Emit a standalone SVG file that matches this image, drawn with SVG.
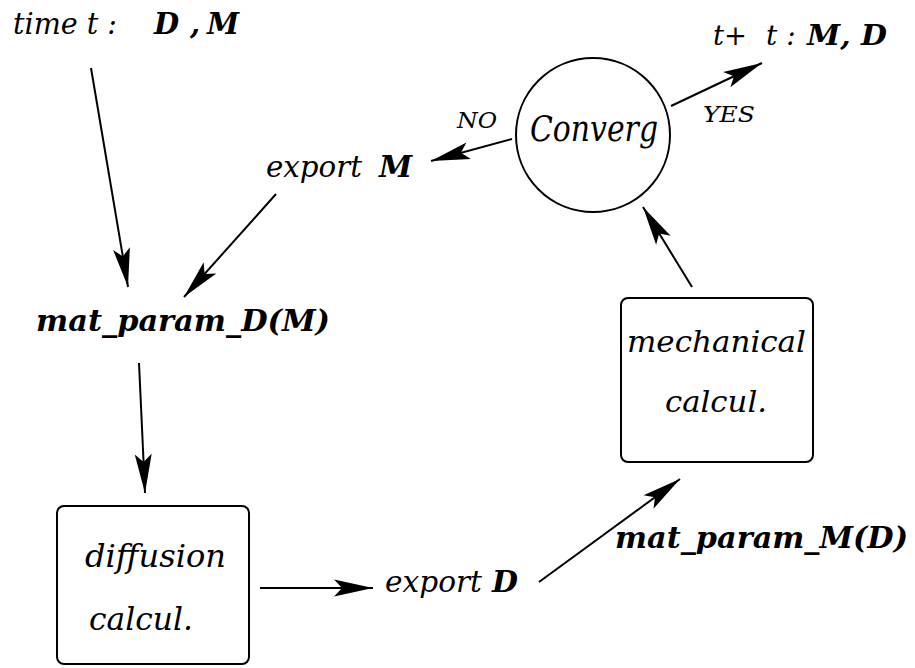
<svg xmlns="http://www.w3.org/2000/svg" width="915" height="668" viewBox="0 0 915 668">
<style>
text{font-family:"DejaVu Serif","Liberation Serif",serif;font-style:italic;fill:#000}
.b{font-weight:bold}
.box{fill:#fff;stroke:#000;stroke-width:2}
.edge{fill:none;stroke:#000;stroke-width:2;marker-end:url(#ah)}
</style>
<defs>
<marker id="ah" markerUnits="userSpaceOnUse" markerWidth="42" markerHeight="20" refX="39" refY="8.5" orient="auto" overflow="visible">
<path d="M0,0 L39,8.5 L0,17 L8,8.5 Z" fill="#000"/>
</marker>
</defs>
<rect width="915" height="668" fill="#fff"/>
<g id="connectors">
<line class="edge" x1="91" y1="68" x2="128" y2="287"/>
<line class="edge" x1="276" y1="194" x2="184" y2="297"/>
<line class="edge" x1="139" y1="363" x2="145" y2="493"/>
<line class="edge" x1="260" y1="588" x2="373" y2="588"/>
<line class="edge" x1="539" y1="582" x2="680" y2="479"/>
<line class="edge" x1="692" y1="287" x2="643" y2="207"/>
<line class="edge" x1="512" y1="139" x2="431" y2="161"/>
<line class="edge" x1="671" y1="106" x2="762" y2="63"/>
<text x="457" y="128" font-size="23" textLength="40" lengthAdjust="spacingAndGlyphs">NO</text>
<text x="703" y="122" font-size="23" textLength="52" lengthAdjust="spacingAndGlyphs">YES</text>
</g>
<g id="start">
<text y="34" font-size="29"><tspan x="13" textLength="104" lengthAdjust="spacingAndGlyphs">time t :</tspan><tspan class="b" x="154">D</tspan><tspan class="b" x="190">,</tspan><tspan class="b" x="207">M</tspan></text>
</g>
<g id="end">
<text y="45" font-size="28"><tspan x="713" textLength="34" lengthAdjust="spacingAndGlyphs">t+</tspan><tspan x="766">t :</tspan><tspan class="b" x="807" textLength="80" lengthAdjust="spacingAndGlyphs">M, D</tspan></text>
</g>
<g id="converg">
<circle cx="593" cy="135" r="77" fill="#fff" stroke="#000" stroke-width="2"/>
<text x="530" y="141" font-size="35" textLength="128" lengthAdjust="spacingAndGlyphs">Converg</text>
</g>
<g id="exportM">
<text y="177" font-size="30"><tspan x="266" textLength="96" lengthAdjust="spacingAndGlyphs">export</tspan><tspan class="b" x="379">M</tspan></text>
</g>
<g id="matD">
<text class="b" x="36" y="331" font-size="30" textLength="294" lengthAdjust="spacingAndGlyphs">mat_param_D(M)</text>
</g>
<g id="diffusion">
<rect class="box" x="57" y="506" width="192" height="158" rx="7"/>
<text x="85" y="567" font-size="31" textLength="141" lengthAdjust="spacingAndGlyphs">diffusion</text>
<text x="89" y="630" font-size="31" textLength="104" lengthAdjust="spacingAndGlyphs">calcul.</text>
</g>
<g id="exportD">
<text y="592" font-size="30"><tspan x="385" textLength="97" lengthAdjust="spacingAndGlyphs">export</tspan><tspan class="b" x="492">D</tspan></text>
</g>
<g id="matM">
<text class="b" x="615" y="548" font-size="30" textLength="293" lengthAdjust="spacingAndGlyphs">mat_param_M(D)</text>
</g>
<g id="mechanical">
<rect class="box" x="621" y="298" width="192" height="164" rx="7"/>
<text x="627" y="352" font-size="30" textLength="179" lengthAdjust="spacingAndGlyphs">mechanical</text>
<text x="665" y="412" font-size="30" textLength="102" lengthAdjust="spacingAndGlyphs">calcul.</text>
</g>
</svg>
